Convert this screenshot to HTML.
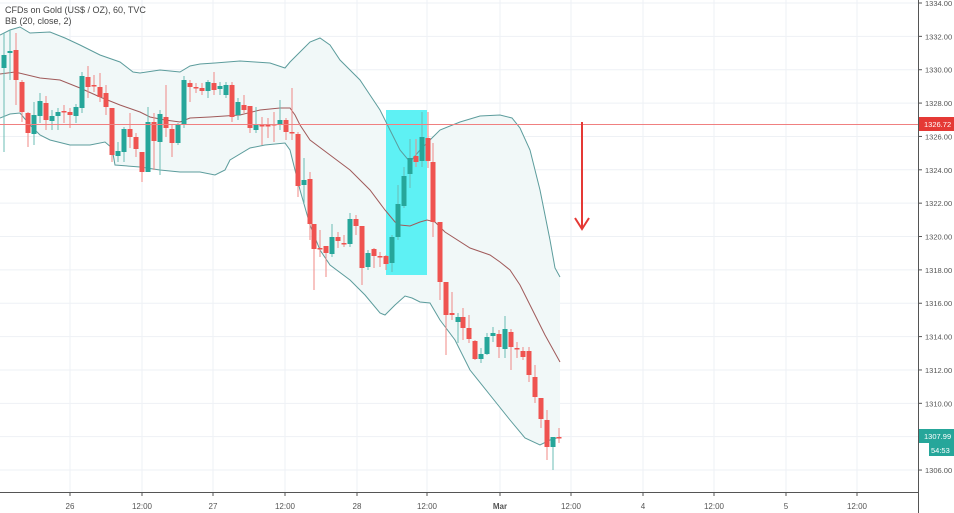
<!DOCTYPE html>
<html><head><meta charset="utf-8"><style>
body{margin:0;background:#fff;font-family:"Liberation Sans",sans-serif}
svg{display:block}
</style></head><body>
<svg id="s" width="954" height="513" xmlns="http://www.w3.org/2000/svg"></svg>
<script>
const s=document.getElementById('s');let h='';
const Y=p=>3+(1334-p)*16.68;
const xs=[70,142,213,285,357,427,500,571,643,714,786,857];
xs.forEach(x=>h+=`<line x1="${x}" y1="0" x2="${x}" y2="492" stroke="#eef1f5"/>`);
for(let p=1306;p<=1334;p+=2){const y=Y(p);h+=`<line x1="0" y1="${y}" x2="918" y2="${y}" stroke="#eef1f5"/>`;}
const up=[[0,35],[10,30],[20,27],[30,33],[50,32],[65,38],[80,45],[100,55],[120,62],[133,72],[140,73],[160,70],[180,72],[190,66],[200,64],[215,63],[240,61],[255,62],[270,63],[285,68],[290,62],[300,52],[310,42],[320,38],[330,45],[340,60],[350,70],[360,80],[370,95],[380,110],[390,130],[400,150],[410,162],[420,150],[430,140],[440,130],[460,122],[480,116],[500,115],[512,118],[520,128],[530,150],[540,190],[550,240],[555,268],[560,277]];
const mid=[[0,74],[15,72],[40,78],[60,80],[80,88],[100,97],[120,105],[140,112],[150,117],[165,120],[180,122],[190,118],[210,117],[240,115],[260,110],[280,108],[290,108],[295,115],[300,125],[310,140],[330,155],[350,170],[370,190],[385,210],[395,222],[400,225],[410,226],[420,222],[427,220],[435,222],[445,232],[470,248],[490,255],[500,262],[510,270],[520,285],[530,305],[545,335],[560,362]];
const lo=[[0,118],[10,114],[20,113],[30,125],[40,135],[50,140],[70,145],[90,145],[105,142],[112,148],[115,165],[140,167],[160,170],[180,172],[200,172],[215,175],[225,170],[230,160],[250,148],[265,145],[285,143],[290,150],[300,190],[310,225],[320,250],[330,265],[350,280],[365,295],[380,313],[385,315],[395,305],[405,296],[412,298],[420,302],[430,303],[440,320],[455,340],[470,370],[490,395],[510,420],[525,438],[540,445],[550,440],[560,437]];
const P=a=>a.map(p=>p.join(',')).join(' ');
h+=`<polygon points="${P(up)} ${P(lo.slice().reverse())}" fill="#f1f8f8"/>`;
h+=`<rect x="386" y="110" width="41" height="165" fill="#5ef1f4"/>`;
h+=`<polyline points="${P(up)}" fill="none" stroke="#5c9c9c" stroke-width="1"/>`;
h+=`<polyline points="${P(lo)}" fill="none" stroke="#5c9c9c" stroke-width="1"/>`;
h+=`<polyline points="${P(mid)}" fill="none" stroke="#a05a5a" stroke-width="1"/>`;
const c=[[4,68,55,33,152],[10,53,51,30,80],[16,50,80,33,105],[22,82,112,80,122],[28,113,133,112,147],[34,134,115,102,145],[40,116,101,93,123],[46,103,120,96,130],[52,121,116,110,130],[58,116,112,108,130],[64,111,112,105,123],[70,112,115,108,128],[76,116,107,104,123],[82,108,76,72,113],[88,77,87,66,98],[94,85,86,75,92],[100,87,97,73,102],[106,93,107,85,115],[112,108,155,108,162],[118,156,151,142,162],[124,152,129,127,162],[130,129,137,113,148],[136,137,149,133,157],[142,152,172,152,182],[148,172,122,107,172],[154,122,141,113,170],[160,142,114,110,175],[166,117,128,85,137],[172,129,143,125,157],[178,143,125,123,145],[184,125,80,76,128],[190,83,87,80,102],[196,87,87,83,93],[202,88,91,83,95],[208,91,82,80,98],[214,83,90,72,95],[220,89,86,82,95],[226,95,85,82,98],[232,85,117,82,122],[238,115,102,98,120],[244,105,110,95,113],[250,106,128,106,133],[256,130,124,107,133],[262,125,125,117,145],[268,125,125,118,138],[274,124,124,112,142],[280,124,120,100,130],[286,120,132,118,140],[292,132,132,88,140],[298,134,186,132,197],[304,185,180,158,203],[310,179,224,172,240],[314,224,249,224,290],[320,248,248,230,257],[326,246,253,246,277],[332,254,237,224,257],[338,237,241,232,248],[344,243,243,235,247],[350,244,219,213,247],[356,219,226,215,235],[362,226,268,226,285],[368,267,253,250,270],[374,249,256,248,268],[380,256,256,252,267],[386,256,264,255,270],[392,263,237,235,272],[398,237,204,185,240],[404,206,176,167,208],[410,174,158,139,188],[416,156,162,139,167],[422,161,137,112,167],[428,138,161,112,168],[433,162,222,143,237],[440,222,282,222,300],[446,282,315,282,355],[452,313,315,292,320],[458,322,317,313,343],[463,317,328,308,340],[469,328,339,315,343],[475,341,359,340,360],[481,359,354,348,363],[487,354,337,333,355],[493,336,333,327,342],[499,334,347,330,358],[505,349,329,316,358],[511,332,347,329,370],[517,348,348,342,358],[523,351,357,347,360],[529,351,375,347,382],[535,377,397,365,403],[541,398,419,398,428],[547,420,447,410,460],[553,447,437,437,470],[559,437,437,428,443]];
c.forEach(([x,o,cl,hi,l])=>{const g=cl<o;const col=g?'#26a69a':'#ef5350';const wc=g?'#6bbcb4':'#f08986';
h+=`<line x1="${x}" y1="${hi}" x2="${x}" y2="${l}" stroke="${wc}"/>`;
const t=Math.min(o,cl),bh=Math.max(1.5,Math.abs(o-cl));h+=`<rect x="${x-2.5}" y="${t}" width="5" height="${bh}" fill="${col}"/>`;});
h+=`<line x1="0" y1="124.5" x2="918" y2="124.5" stroke="#f08080" stroke-width="1"/>`;
h+=`<line x1="582" y1="122" x2="582" y2="229" stroke="#e53935" stroke-width="2"/><polyline points="575,218 582,229 589,218" fill="none" stroke="#e53935" stroke-width="2"/>`;
h+=`<line x1="918.5" y1="0" x2="918.5" y2="513" stroke="#555"/><line x1="0" y1="492.5" x2="918" y2="492.5" stroke="#555"/>`;
for(let p=1306;p<=1334;p+=2){const y=Y(p);h+=`<line x1="918" y1="${y}" x2="922" y2="${y}" stroke="#555"/><text x="925" y="${y+3}" font-size="7.5" fill="#555">${p}.00</text>`;}
const lb=['26','12:00','27','12:00','28','12:00','Mar','12:00','4','12:00','5','12:00'];
xs.forEach((x,i)=>h+=`<line x1="${x}" y1="492" x2="${x}" y2="496" stroke="#555"/><text x="${x}" y="509" font-size="8" fill="#555" text-anchor="middle" ${lb[i]=='Mar'?'font-weight="bold"':''}>${lb[i]}</text>`);
h+=`<rect x="919" y="117" width="35" height="14" fill="#e53935"/><text x="924" y="127" font-size="7.5" fill="#fff">1326.72</text>`;
h+=`<rect x="919" y="429" width="35" height="14" fill="#26a69a"/><text x="924" y="439" font-size="7.5" fill="#fff">1307.99</text>`;
h+=`<rect x="929" y="443" width="25" height="13" fill="#26a69a"/><text x="931" y="453" font-size="7.5" fill="#fff">54:53</text>`;
h+=`<text x="5" y="13" font-size="9" fill="#444">CFDs on Gold (US$ / OZ), 60, TVC</text><text x="5" y="24" font-size="9" fill="#444">BB (20, close, 2)</text>`;
s.innerHTML=h;
</script>
</body></html>
